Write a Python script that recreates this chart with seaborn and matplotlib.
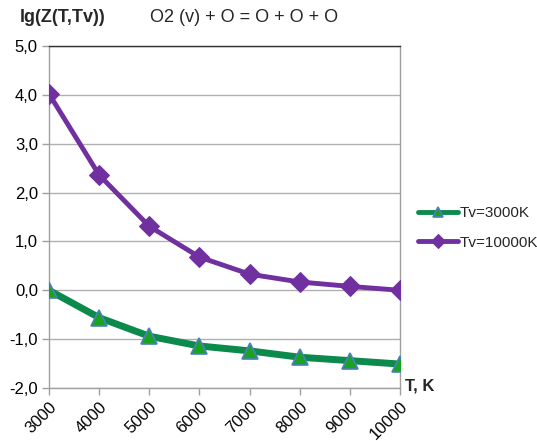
import matplotlib
matplotlib.use("Agg")
import matplotlib.pyplot as plt
import seaborn as sns
import pandas as pd

temps = [3000, 4000, 5000, 6000, 7000, 8000, 9000, 10000]
tv3000 = [0.0, -0.56, -0.94, -1.14, -1.24, -1.37, -1.44, -1.51]
tv10000 = [4.02, 2.36, 1.31, 0.68, 0.33, 0.17, 0.08, 0.0]
yticks = [5.0, 4.0, 3.0, 2.0, 1.0, 0.0, -1.0, -2.0]

sns.set_theme(style="white")
plt.rcParams["font.family"] = ["Liberation Sans", "DejaVu Sans"]

df = pd.DataFrame({"T": temps, "Tv=3000K": tv3000, "Tv=10000K": tv10000})

fig = plt.figure(figsize=(5.37, 4.41), dpi=100)
ax = fig.add_axes([49 / 537, 1 - 388 / 441, (400 - 49) / 537, (388 - 46) / 441])

ax.yaxis.grid(True, color="#b0b0b0", linewidth=1)
ax.set_axisbelow(True)

sns.lineplot(data=df, x="T", y="Tv=3000K", ax=ax, color="#0b8a4c", linewidth=5,
             marker="^", markersize=12, markerfacecolor="#19a31f",
             markeredgecolor="#4a7fc0", markeredgewidth=1.2, label="Tv=3000K",
             zorder=3)
sns.lineplot(data=df, x="T", y="Tv=10000K", ax=ax, color="#7030a0", linewidth=3.5,
             marker="D", markersize=10, markerfacecolor="#7030a0",
             markeredgecolor="#7030a0", label="Tv=10000K", zorder=3)

ax.set_xlim(3000, 10000)
ax.set_ylim(-2.0, 5.0)
ax.set_xticks(temps)
ax.set_xticklabels([str(t) for t in temps], rotation=45, ha="right",
                   rotation_mode="anchor", fontsize=12)
ax.set_yticks(yticks)
ax.set_yticklabels([f"{v:.1f}".replace(".", ",") for v in yticks], fontsize=12)
ax.set_xlabel("")
ax.set_ylabel("")

for side in ["left", "right", "bottom"]:
    ax.spines[side].set_color("#a0a0a0")
    ax.spines[side].set_linewidth(1)
ax.spines["top"].set_color("#303030")
ax.spines["top"].set_linewidth(1)

ax.tick_params(axis="both", direction="out", length=5, width=1, color="#a0a0a0",
               pad=3, labelcolor="#000000", bottom=True, left=True)

leg = ax.legend(loc="center left", bbox_to_anchor=(418 / 537, 1 - 228 / 441),
                bbox_transform=fig.transFigure, frameon=False, borderpad=0,
                borderaxespad=0, fontsize=11, handlelength=2.6,
                handletextpad=0.1, labelspacing=1.0)
for h in leg.legend_handles:
    h.set_markersize(7)
    h.set_linewidth(3.5)

fig.text(20 / 537, 1 - 18 / 441, "lg(Z(T,Tv))", fontsize=13, fontweight="bold",
         va="center", ha="left")
fig.text(150 / 537, 1 - 18 / 441, "O2 (v) + O = O + O + O", fontsize=13,
         va="center", ha="left")
fig.text(405 / 537, 1 - 386 / 441, "T, K", fontsize=12, fontweight="bold",
         va="center", ha="left")

fig.savefig("out.png", dpi=100)
